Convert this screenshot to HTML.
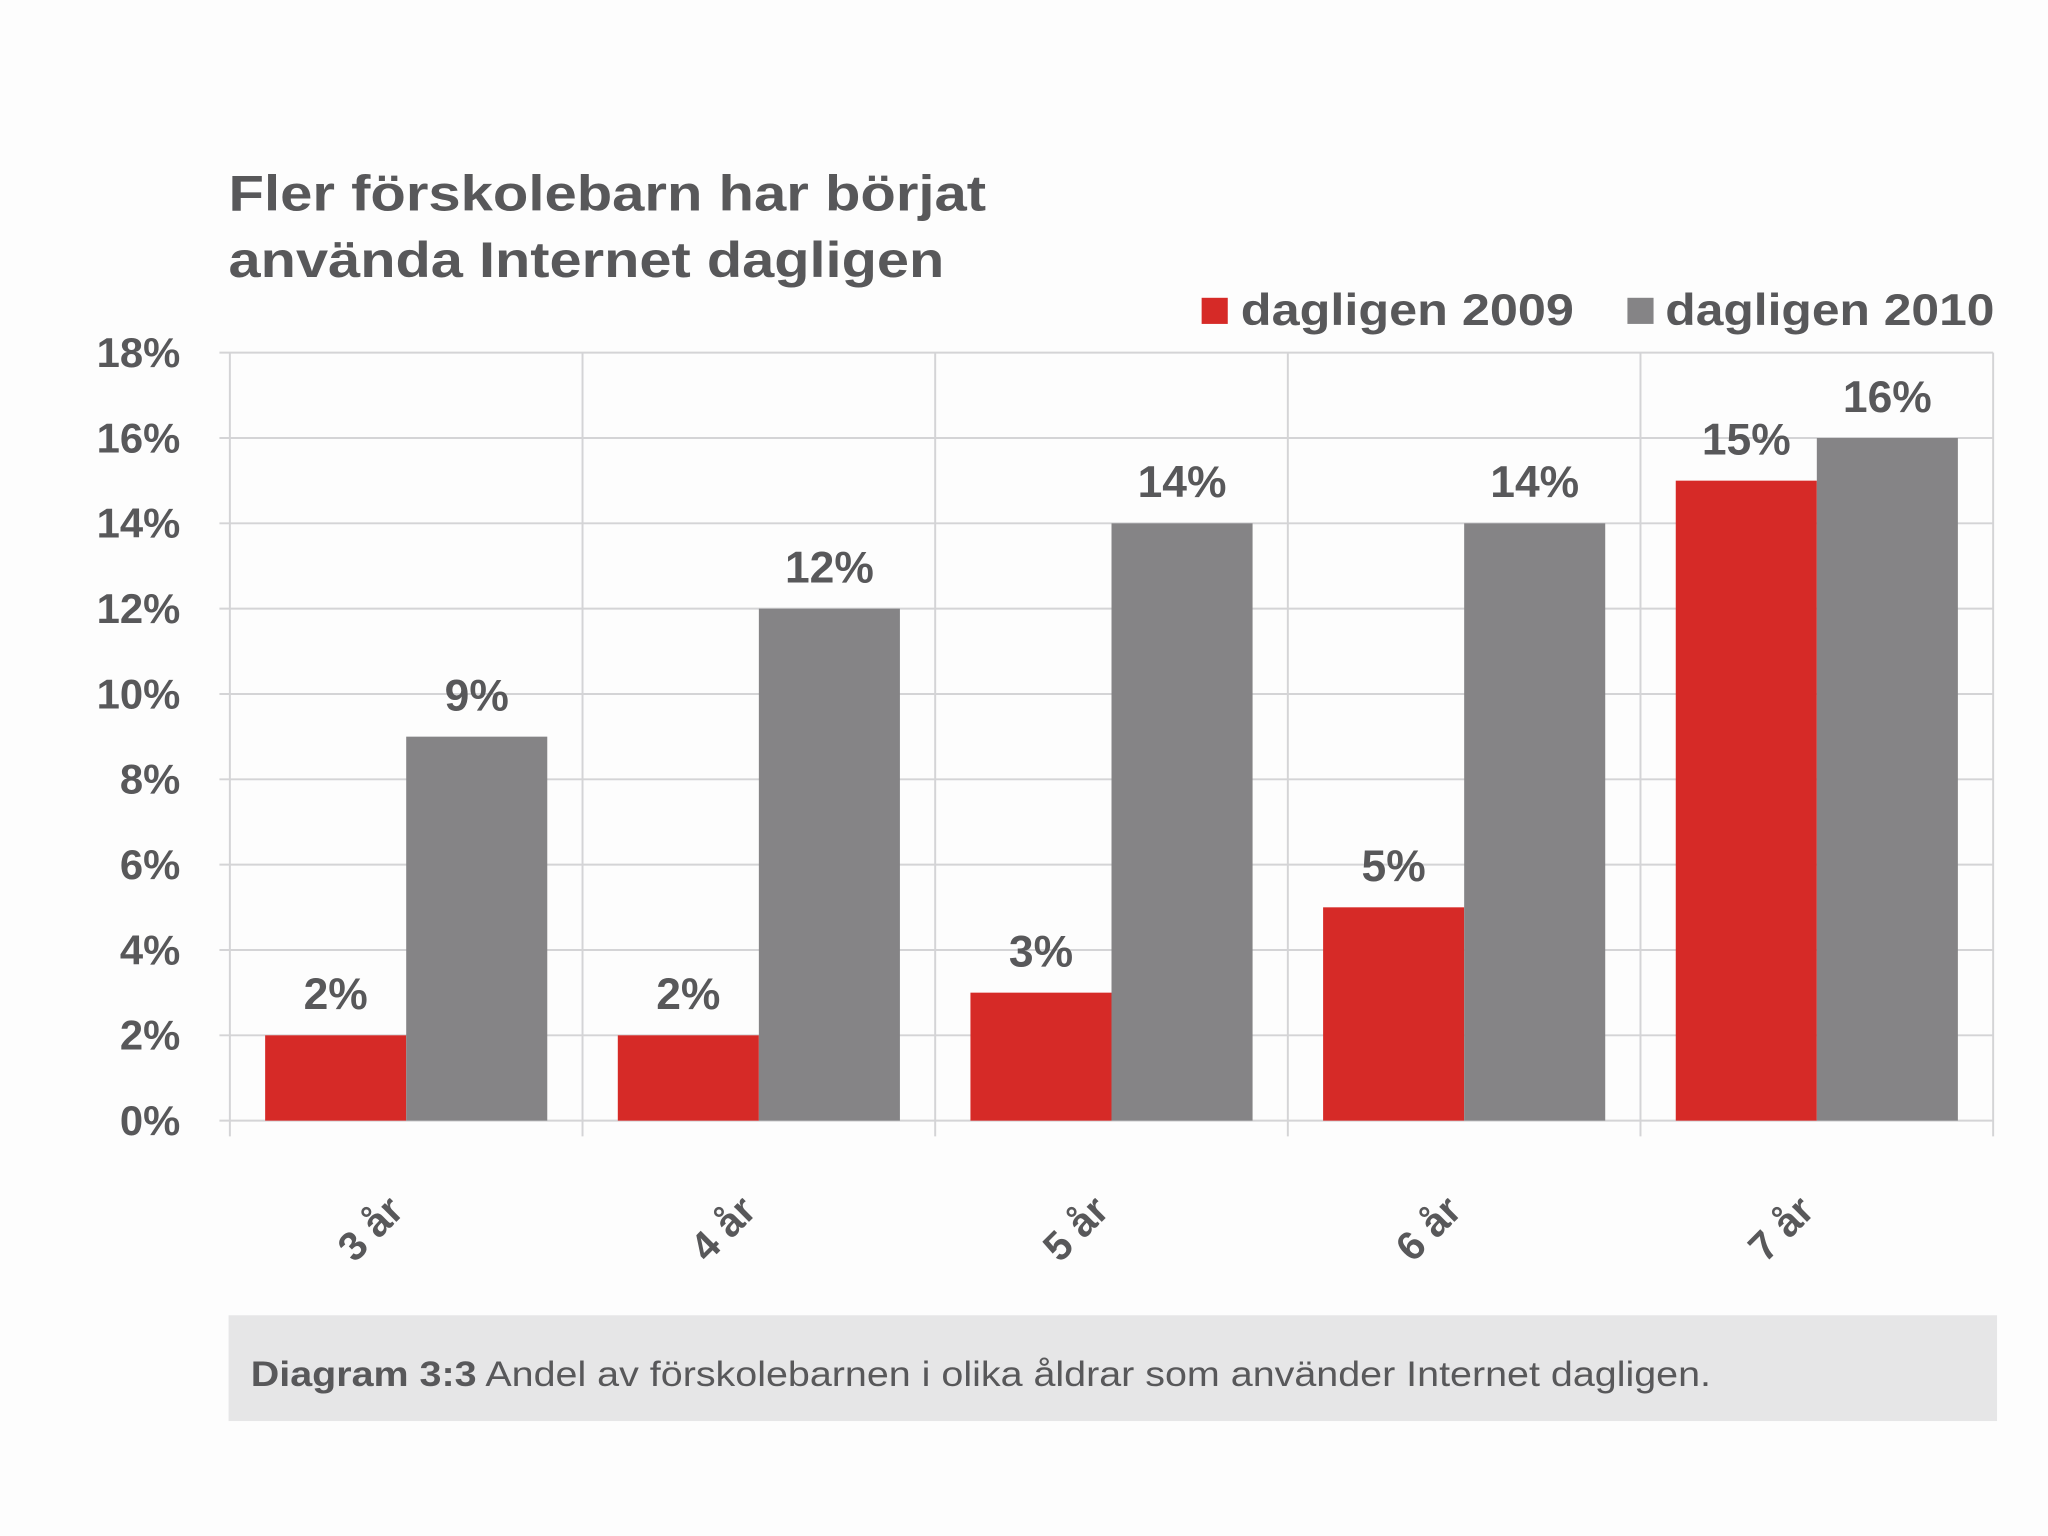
<!DOCTYPE html>
<html><head><meta charset="utf-8"><style>
html,body{margin:0;padding:0;background:#fff;}
svg{display:block;}
text{font-family:"Liberation Sans",sans-serif;}
</style></head><body>
<svg id="chart" width="2048" height="1536" viewBox="0 0 1568 1176" xmlns="http://www.w3.org/2000/svg">
<rect x="0" y="0" width="1568" height="1176" fill="#fdfdfd"/>
<text x="175" y="161" font-size="38" font-weight="bold" fill="#58585a" textLength="580" lengthAdjust="spacingAndGlyphs">Fler förskolebarn har börjat</text>
<text x="175" y="212" font-size="38" font-weight="bold" fill="#58585a" textLength="548" lengthAdjust="spacingAndGlyphs">använda Internet dagligen</text>
<g>
<rect x="920" y="228" width="20" height="20" fill="#d62a27"/>
<text x="950" y="249" font-size="34" font-weight="bold" fill="#58585a" textLength="255" lengthAdjust="spacingAndGlyphs">dagligen 2009</text>
<rect x="1246" y="228" width="20" height="20" fill="#858486"/>
<text x="1275" y="249" font-size="34" font-weight="bold" fill="#58585a" textLength="252" lengthAdjust="spacingAndGlyphs">dagligen 2010</text>
</g>
<g id="plot"></g>
<rect x="175" y="1007" width="1354" height="81" fill="#e6e6e7"/>
<text x="192" y="1061" font-size="27" fill="#58585a" textLength="1118" lengthAdjust="spacingAndGlyphs"><tspan font-weight="bold">Diagram 3:3</tspan> Andel av förskolebarnen i olika åldrar som använder Internet dagligen.</text>
</svg>
<script>
const categories = ["3 år","4 år","5 år","6 år","7 år"];
const values2009 = [2,2,3,5,15];
const values2010 = [9,12,14,14,16];
const yTicks = [0,2,4,6,8,10,12,14,16,18];

const NS="http://www.w3.org/2000/svg";
const plot=document.getElementById('plot');
const L=176,R=1526,T=270,B=858,YMAX=18;
const y=v=>B-(v/YMAX)*(B-T);
const gw=(R-L)/categories.length;
const x=i=>L+i*gw;
function mk(tag,attrs){const e=document.createElementNS(NS,tag);for(const k in attrs)e.setAttribute(k,attrs[k]);plot.appendChild(e);return e;}

yTicks.forEach(t=>{
  const g=mk('line',{x1:L-8,x2:R,y1:y(t),y2:y(t),stroke:'#d4d4d6','stroke-width':1.5});
  
  
  const lb=mk('text',{x:138,y:y(t)+11,'font-size':32,'font-weight':'bold',fill:'#58585a','text-anchor':'end'});
  lb.textContent=t+'%';
  
  
});
for(let i=0;i<=categories.length;i++){
  const ln=mk('line',{x1:x(i),x2:x(i),y1:T,y2:B+12,stroke:'#d4d4d6','stroke-width':1.5});
  
  
}
const bw=108,off=27;
categories.forEach((c,i)=>{
  const x1=x(i)+off, x2=x1+bw;
  const r=mk('rect',{x:x1,y:y(values2009[i]),width:bw,height:B-y(values2009[i]),fill:'#d62a27'});
  
  
  const g=mk('rect',{x:x2,y:y(values2010[i]),width:bw,height:B-y(values2010[i]),fill:'#858486'});
  
  
  const t1=mk('text',{x:x1+bw/2,y:y(values2009[i])-20,'font-size':34,'font-weight':'bold',fill:'#58585a','text-anchor':'middle'});
  t1.textContent=values2009[i]+'%';
  
  
  const t2=mk('text',{x:x2+bw/2,y:y(values2010[i])-20,'font-size':34,'font-weight':'bold',fill:'#58585a','text-anchor':'middle'});
  t2.textContent=values2010[i]+'%';
  
  
  const cx=x(i)+gw/2-20, cy=948;
  const xl=mk('text',{x:cx,y:cy,'font-size':31,'font-weight':'bold',fill:'#58585a','text-anchor':'middle',transform:`rotate(-45 ${cx} ${cy})`});
  xl.textContent=c;
  
  
});
</script>
</body></html>
